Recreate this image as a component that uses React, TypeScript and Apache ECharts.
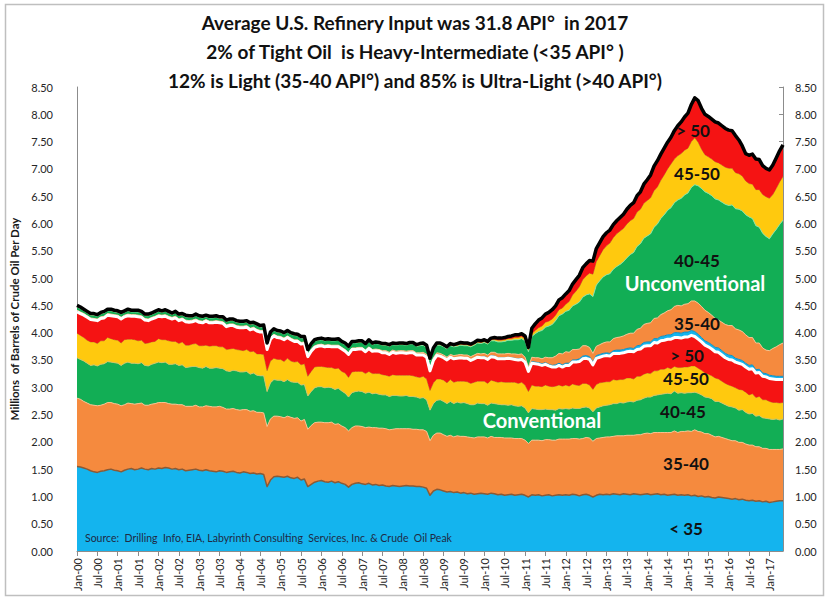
import React, { useEffect, useRef } from "react";
import * as echarts from "echarts";

// ---------- categories (Jan-00 .. May-17, monthly) ----------
const MONTHS = ["Jan", "Feb", "Mar", "Apr", "May", "Jun", "Jul", "Aug", "Sep", "Oct", "Nov", "Dec"];
const YEARS = ["00", "01", "02", "03", "04", "05", "06", "07", "08", "09", "10", "11", "12", "13", "14", "15", "16", "17"];
const N_MONTHS = 209;
const CATEGORIES: string[] = [];
for (const y of YEARS) for (const m of MONTHS) if (CATEGORIES.length < N_MONTHS) CATEGORIES.push(`${m}-${y}`);

const Y_TICKS_MAX = 8.5;
const Y_TICK_STEP = 0.5;

// ---------- Conventional crude, million b/d by API gravity band ----------
const CONV_LT35 = [
  1.55,1.54,1.52,1.50,1.47,1.45,1.44,1.46,1.47,1.49,1.50,1.48,
  1.47,1.45,1.48,1.50,1.51,1.49,1.50,1.52,1.50,1.49,1.51,1.50,
  1.52,1.51,1.53,1.52,1.50,1.51,1.49,1.50,1.47,1.48,1.49,1.50,
  1.48,1.47,1.49,1.47,1.46,1.45,1.47,1.46,1.44,1.45,1.46,1.44,
  1.43,1.45,1.44,1.42,1.43,1.41,1.42,1.40,1.18,1.30,1.36,1.37,
  1.36,1.35,1.37,1.34,1.33,1.35,1.30,1.32,1.18,1.22,1.26,1.28,
  1.29,1.27,1.26,1.28,1.25,1.27,1.24,1.22,1.17,1.22,1.24,1.25,
  1.23,1.22,1.24,1.21,1.22,1.20,1.21,1.19,1.18,1.20,1.19,1.18,
  1.19,1.20,1.19,1.19,1.18,1.18,1.17,1.15,1.02,1.10,1.13,1.12,
  1.10,1.08,1.09,1.07,1.08,1.06,1.07,1.05,1.06,1.04,1.05,1.06,
  1.05,1.04,1.06,1.05,1.03,1.04,1.02,1.03,1.04,1.02,1.03,1.04,
  1.02,0.99,1.03,1.02,1.03,1.01,1.02,1.03,1.01,1.02,1.03,1.02,
  1.03,1.02,1.04,1.03,1.01,1.03,1.04,1.02,0.99,1.02,1.04,1.03,
  1.04,1.03,1.05,1.04,1.03,1.05,1.04,1.03,1.05,1.04,1.03,1.04,
  1.05,1.03,1.04,1.05,1.03,1.04,1.02,1.03,1.04,1.02,1.03,1.02,
  1.03,1.01,1.02,1.00,1.01,0.99,1.00,0.98,0.97,0.99,0.98,0.97,
  0.96,0.95,0.96,0.94,0.95,0.93,0.92,0.93,0.91,0.92,0.90,0.91,
  0.89,0.90,0.91,0.92,0.92,
];
const CONV_35_40 = [
  1.25,1.24,1.22,1.21,1.21,1.22,1.22,1.21,1.22,1.23,1.22,1.22,
  1.22,1.21,1.20,1.21,1.19,1.20,1.20,1.19,1.17,1.18,1.18,1.20,
  1.20,1.21,1.19,1.18,1.19,1.18,1.19,1.18,1.18,1.17,1.16,1.17,
  1.16,1.17,1.17,1.18,1.18,1.19,1.18,1.17,1.16,1.15,1.15,1.15,
  1.15,1.14,1.15,1.14,1.14,1.13,1.12,1.13,1.10,1.12,1.11,1.10,
  1.10,1.09,1.10,1.11,1.10,1.09,1.08,1.09,1.05,1.08,1.09,1.08,
  1.07,1.08,1.09,1.08,1.07,1.06,1.05,1.04,1.03,1.04,1.05,1.04,
  1.05,1.04,1.03,1.05,1.04,1.05,1.04,1.05,1.04,1.03,1.05,1.06,
  1.05,1.04,1.05,1.04,1.05,1.04,1.05,1.04,1.00,1.02,1.03,1.04,
  1.03,1.02,1.03,1.02,1.03,1.04,1.03,1.04,1.02,1.03,1.04,1.03,
  1.04,1.03,1.04,1.03,1.05,1.04,1.05,1.04,1.03,1.04,1.03,1.02,
  1.01,0.98,1.00,1.01,1.00,1.01,1.02,1.01,1.02,1.01,1.02,1.03,
  1.02,1.03,1.02,1.03,1.04,1.03,1.04,1.05,1.02,1.04,1.03,1.05,
  1.05,1.06,1.05,1.07,1.08,1.06,1.08,1.09,1.07,1.09,1.10,1.11,
  1.11,1.12,1.13,1.12,1.14,1.13,1.15,1.14,1.16,1.15,1.16,1.17,
  1.17,1.18,1.20,1.19,1.17,1.16,1.15,1.14,1.12,1.11,1.10,1.09,
  1.08,1.07,1.06,1.05,1.04,1.03,1.02,1.01,1.00,0.99,0.98,0.97,
  0.97,0.96,0.95,0.94,0.95,
];
const CONV_40_45 = [
  0.74,0.73,0.74,0.73,0.72,0.74,0.73,0.75,0.74,0.75,0.74,0.75,
  0.75,0.74,0.76,0.75,0.74,0.75,0.73,0.74,0.73,0.72,0.73,0.74,
  0.74,0.73,0.74,0.72,0.73,0.74,0.72,0.73,0.71,0.72,0.73,0.71,
  0.72,0.71,0.72,0.70,0.71,0.72,0.70,0.71,0.70,0.69,0.70,0.71,
  0.70,0.69,0.70,0.68,0.69,0.68,0.67,0.68,0.64,0.66,0.67,0.66,
  0.67,0.66,0.67,0.65,0.66,0.65,0.66,0.64,0.61,0.62,0.64,0.65,
  0.65,0.64,0.65,0.63,0.64,0.65,0.64,0.63,0.62,0.64,0.63,0.64,
  0.64,0.63,0.64,0.62,0.63,0.62,0.61,0.62,0.61,0.62,0.61,0.60,
  0.60,0.61,0.59,0.60,0.59,0.58,0.59,0.58,0.56,0.58,0.60,0.61,
  0.61,0.60,0.62,0.61,0.62,0.61,0.62,0.61,0.60,0.61,0.62,0.61,
  0.61,0.60,0.61,0.62,0.61,0.60,0.61,0.60,0.61,0.60,0.59,0.60,
  0.59,0.56,0.58,0.57,0.56,0.57,0.56,0.55,0.56,0.55,0.56,0.55,
  0.56,0.55,0.56,0.55,0.56,0.57,0.56,0.55,0.54,0.56,0.57,0.58,
  0.58,0.59,0.60,0.59,0.61,0.60,0.61,0.62,0.61,0.63,0.64,0.65,
  0.66,0.67,0.68,0.69,0.70,0.71,0.72,0.71,0.73,0.72,0.71,0.70,
  0.70,0.71,0.69,0.70,0.68,0.67,0.66,0.67,0.65,0.64,0.63,0.62,
  0.61,0.62,0.60,0.59,0.60,0.58,0.57,0.58,0.56,0.57,0.56,0.55,
  0.56,0.55,0.56,0.54,0.55,
];
const CONV_45_50 = [
  0.45,0.44,0.43,0.42,0.43,0.42,0.41,0.43,0.42,0.44,0.43,0.42,
  0.42,0.41,0.43,0.42,0.44,0.43,0.42,0.41,0.40,0.42,0.41,0.40,
  0.43,0.42,0.41,0.43,0.42,0.41,0.40,0.42,0.41,0.40,0.41,0.42,
  0.40,0.41,0.39,0.40,0.41,0.40,0.39,0.40,0.39,0.41,0.40,0.39,
  0.40,0.39,0.40,0.41,0.40,0.39,0.40,0.39,0.38,0.40,0.39,0.38,
  0.38,0.37,0.39,0.38,0.37,0.38,0.37,0.38,0.36,0.37,0.38,0.37,
  0.37,0.38,0.36,0.37,0.38,0.37,0.36,0.37,0.36,0.38,0.37,0.36,
  0.37,0.36,0.38,0.37,0.36,0.38,0.37,0.36,0.37,0.38,0.37,0.38,
  0.38,0.37,0.39,0.38,0.37,0.38,0.39,0.38,0.36,0.38,0.39,0.38,
  0.39,0.38,0.40,0.39,0.38,0.40,0.39,0.40,0.39,0.41,0.40,0.41,
  0.41,0.40,0.42,0.41,0.40,0.42,0.41,0.42,0.41,0.43,0.42,0.43,
  0.42,0.39,0.43,0.42,0.43,0.42,0.44,0.43,0.42,0.44,0.43,0.42,
  0.43,0.42,0.44,0.43,0.42,0.44,0.43,0.42,0.41,0.43,0.44,0.43,
  0.43,0.42,0.44,0.43,0.42,0.43,0.44,0.43,0.42,0.44,0.43,0.44,
  0.44,0.43,0.45,0.44,0.46,0.45,0.47,0.46,0.45,0.47,0.46,0.48,
  0.47,0.49,0.48,0.46,0.45,0.44,0.43,0.42,0.43,0.41,0.40,0.39,
  0.39,0.38,0.37,0.38,0.36,0.37,0.35,0.36,0.34,0.35,0.33,0.34,
  0.32,0.31,0.30,0.31,0.30,
];
const CONV_GT50 = [
  0.39,0.40,0.41,0.42,0.41,0.40,0.42,0.41,0.42,0.41,0.42,0.43,
  0.43,0.44,0.42,0.43,0.42,0.43,0.44,0.42,0.43,0.41,0.42,0.43,
  0.41,0.42,0.43,0.42,0.41,0.43,0.42,0.41,0.43,0.42,0.41,0.42,
  0.43,0.42,0.44,0.43,0.42,0.43,0.44,0.43,0.42,0.43,0.42,0.41,
  0.41,0.42,0.41,0.40,0.41,0.42,0.40,0.41,0.39,0.40,0.41,0.40,
  0.39,0.40,0.38,0.39,0.38,0.37,0.38,0.37,0.36,0.37,0.36,0.37,
  0.38,0.37,0.39,0.38,0.40,0.39,0.41,0.40,0.42,0.41,0.40,0.41,
  0.41,0.40,0.42,0.41,0.42,0.41,0.40,0.41,0.40,0.41,0.40,0.41,
  0.41,0.40,0.41,0.42,0.40,0.41,0.39,0.40,0.36,0.41,0.43,0.42,
  0.41,0.42,0.41,0.43,0.42,0.43,0.42,0.43,0.42,0.43,0.44,0.43,
  0.43,0.44,0.43,0.44,0.43,0.42,0.43,0.44,0.43,0.42,0.43,0.42,
  0.42,0.37,0.40,0.41,0.40,0.39,0.38,0.37,0.36,0.35,0.36,0.35,
  0.36,0.38,0.40,0.42,0.44,0.45,0.46,0.47,0.45,0.48,0.47,0.48,
  0.48,0.47,0.48,0.49,0.48,0.49,0.48,0.49,0.50,0.49,0.50,0.51,
  0.50,0.51,0.52,0.51,0.52,0.53,0.52,0.54,0.53,0.55,0.54,0.55,
  0.55,0.56,0.54,0.53,0.52,0.51,0.50,0.49,0.48,0.49,0.48,0.47,
  0.47,0.48,0.47,0.48,0.47,0.46,0.47,0.46,0.45,0.44,0.43,0.42,
  0.42,0.43,0.42,0.43,0.42,
];

// ---------- Unconventional (tight oil), million b/d by API gravity band ----------
const UNC_LT35 = [
  0.01,0.01,0.01,0.01,0.01,0.01,0.01,0.01,0.01,0.01,0.01,0.01,
  0.01,0.01,0.01,0.01,0.01,0.01,0.01,0.01,0.01,0.01,0.01,0.01,
  0.01,0.01,0.01,0.01,0.01,0.01,0.01,0.01,0.01,0.01,0.01,0.01,
  0.01,0.01,0.01,0.01,0.01,0.01,0.01,0.01,0.01,0.01,0.01,0.01,
  0.01,0.01,0.01,0.01,0.01,0.01,0.01,0.01,0.01,0.01,0.01,0.01,
  0.01,0.01,0.01,0.01,0.01,0.01,0.01,0.01,0.01,0.01,0.01,0.01,
  0.01,0.01,0.01,0.01,0.01,0.01,0.01,0.01,0.01,0.01,0.01,0.01,
  0.01,0.01,0.01,0.01,0.01,0.01,0.01,0.01,0.01,0.01,0.01,0.01,
  0.01,0.01,0.01,0.01,0.01,0.01,0.01,0.01,0.01,0.01,0.01,0.01,
  0.01,0.01,0.01,0.01,0.01,0.01,0.01,0.01,0.01,0.01,0.01,0.01,
  0.02,0.02,0.02,0.02,0.02,0.02,0.02,0.02,0.02,0.02,0.02,0.02,
  0.02,0.02,0.03,0.03,0.03,0.03,0.03,0.03,0.03,0.04,0.04,0.04,
  0.04,0.04,0.04,0.04,0.05,0.05,0.05,0.05,0.05,0.05,0.05,0.05,
  0.05,0.05,0.05,0.06,0.06,0.06,0.06,0.06,0.06,0.07,0.07,0.07,
  0.07,0.07,0.07,0.08,0.08,0.08,0.08,0.08,0.09,0.09,0.09,0.09,
  0.09,0.09,0.09,0.09,0.08,0.08,0.08,0.08,0.08,0.08,0.08,0.08,
  0.08,0.08,0.07,0.07,0.07,0.07,0.07,0.07,0.06,0.06,0.06,0.06,
  0.06,0.06,0.06,0.06,0.06,
];
const UNC_35_40 = [
  0.02,0.02,0.02,0.02,0.02,0.02,0.02,0.02,0.02,0.02,0.02,0.02,
  0.02,0.02,0.02,0.02,0.02,0.02,0.02,0.02,0.02,0.02,0.02,0.02,
  0.02,0.02,0.02,0.02,0.02,0.02,0.02,0.02,0.02,0.02,0.02,0.02,
  0.02,0.02,0.02,0.02,0.02,0.02,0.02,0.02,0.02,0.02,0.02,0.02,
  0.02,0.02,0.02,0.02,0.02,0.02,0.02,0.02,0.02,0.02,0.02,0.02,
  0.02,0.02,0.02,0.02,0.02,0.02,0.02,0.02,0.02,0.02,0.02,0.02,
  0.02,0.02,0.02,0.02,0.02,0.02,0.02,0.02,0.02,0.02,0.02,0.02,
  0.02,0.02,0.02,0.02,0.02,0.02,0.03,0.03,0.03,0.03,0.03,0.03,
  0.03,0.03,0.03,0.03,0.03,0.03,0.04,0.04,0.04,0.04,0.04,0.04,
  0.04,0.04,0.04,0.05,0.05,0.05,0.05,0.05,0.06,0.06,0.06,0.06,
  0.06,0.06,0.06,0.07,0.07,0.07,0.07,0.07,0.07,0.08,0.08,0.08,
  0.07,0.06,0.08,0.08,0.09,0.09,0.10,0.12,0.14,0.16,0.18,0.20,
  0.21,0.20,0.19,0.19,0.18,0.19,0.18,0.17,0.16,0.17,0.18,0.19,
  0.20,0.21,0.22,0.23,0.24,0.25,0.26,0.27,0.28,0.30,0.31,0.33,
  0.34,0.35,0.37,0.38,0.40,0.42,0.44,0.46,0.48,0.50,0.50,0.51,
  0.52,0.54,0.56,0.57,0.57,0.56,0.55,0.54,0.53,0.51,0.52,0.53,
  0.54,0.55,0.54,0.54,0.53,0.52,0.51,0.50,0.49,0.48,0.46,0.43,
  0.45,0.50,0.54,0.58,0.61,
];
const UNC_40_45 = [
  0.06,0.06,0.05,0.05,0.05,0.06,0.05,0.05,0.06,0.05,0.06,0.05,
  0.05,0.06,0.05,0.06,0.05,0.05,0.06,0.05,0.05,0.06,0.05,0.06,
  0.06,0.05,0.06,0.06,0.05,0.06,0.06,0.05,0.06,0.06,0.05,0.06,
  0.06,0.06,0.05,0.06,0.06,0.06,0.05,0.06,0.06,0.06,0.06,0.06,
  0.06,0.06,0.06,0.07,0.06,0.07,0.06,0.07,0.06,0.07,0.07,0.07,
  0.07,0.07,0.07,0.07,0.08,0.07,0.08,0.07,0.07,0.08,0.08,0.08,
  0.08,0.08,0.08,0.08,0.08,0.09,0.08,0.09,0.09,0.09,0.09,0.09,
  0.09,0.09,0.10,0.09,0.10,0.10,0.10,0.10,0.11,0.10,0.11,0.11,
  0.11,0.11,0.12,0.12,0.12,0.13,0.13,0.13,0.14,0.14,0.14,0.15,
  0.15,0.15,0.16,0.16,0.16,0.17,0.17,0.17,0.18,0.18,0.19,0.19,
  0.20,0.20,0.21,0.21,0.22,0.22,0.23,0.24,0.25,0.26,0.27,0.28,
  0.30,0.28,0.38,0.44,0.48,0.52,0.55,0.58,0.61,0.65,0.69,0.73,
  0.74,0.77,0.80,0.83,0.86,0.89,0.93,0.98,1.04,1.12,1.17,1.21,
  1.23,1.25,1.27,1.30,1.33,1.36,1.40,1.44,1.48,1.52,1.55,1.58,
  1.60,1.63,1.67,1.72,1.76,1.80,1.84,1.87,1.90,1.93,1.97,2.00,
  2.03,2.08,2.13,2.15,2.16,2.17,2.18,2.19,2.19,2.20,2.20,2.20,
  2.20,2.21,2.20,2.21,2.21,2.20,2.21,2.18,2.15,2.12,2.10,2.08,
  2.05,2.10,2.15,2.20,2.25,
];
const UNC_45_50 = [
  0.01,0.01,0.01,0.01,0.01,0.01,0.01,0.01,0.01,0.01,0.01,0.01,
  0.01,0.01,0.01,0.01,0.01,0.01,0.01,0.01,0.01,0.01,0.01,0.01,
  0.01,0.01,0.01,0.01,0.01,0.01,0.01,0.01,0.01,0.01,0.01,0.01,
  0.01,0.01,0.01,0.01,0.01,0.01,0.01,0.01,0.01,0.01,0.01,0.01,
  0.01,0.01,0.01,0.01,0.01,0.01,0.01,0.01,0.01,0.01,0.01,0.01,
  0.01,0.01,0.01,0.01,0.01,0.01,0.01,0.01,0.01,0.01,0.01,0.01,
  0.01,0.01,0.01,0.01,0.01,0.01,0.01,0.01,0.01,0.01,0.01,0.01,
  0.01,0.01,0.01,0.01,0.01,0.01,0.01,0.01,0.01,0.01,0.01,0.01,
  0.01,0.01,0.01,0.01,0.01,0.02,0.02,0.02,0.02,0.02,0.02,0.02,
  0.02,0.02,0.02,0.02,0.02,0.02,0.02,0.02,0.02,0.02,0.02,0.02,
  0.02,0.02,0.02,0.03,0.03,0.03,0.03,0.03,0.03,0.04,0.04,0.04,
  0.04,0.04,0.05,0.06,0.07,0.08,0.09,0.09,0.10,0.10,0.11,0.11,
  0.13,0.16,0.20,0.24,0.28,0.32,0.35,0.38,0.41,0.43,0.46,0.50,
  0.53,0.56,0.58,0.60,0.61,0.61,0.62,0.62,0.62,0.63,0.63,0.64,
  0.65,0.66,0.67,0.68,0.70,0.73,0.76,0.80,0.80,0.81,0.82,0.82,
  0.82,0.84,0.86,0.80,0.72,0.68,0.67,0.67,0.68,0.68,0.68,0.68,
  0.68,0.67,0.66,0.65,0.64,0.62,0.61,0.63,0.66,0.69,0.71,0.73,
  0.74,0.72,0.75,0.78,0.80,
];
const UNC_GT50 = [
  0.02,0.02,0.02,0.02,0.02,0.02,0.02,0.02,0.02,0.02,0.02,0.02,
  0.02,0.02,0.02,0.02,0.02,0.02,0.02,0.02,0.02,0.02,0.02,0.02,
  0.02,0.02,0.02,0.02,0.02,0.02,0.02,0.02,0.02,0.02,0.02,0.02,
  0.02,0.02,0.02,0.02,0.02,0.02,0.02,0.02,0.02,0.02,0.02,0.02,
  0.02,0.02,0.02,0.02,0.02,0.02,0.02,0.02,0.02,0.02,0.02,0.02,
  0.02,0.02,0.02,0.02,0.02,0.02,0.02,0.02,0.02,0.02,0.02,0.02,
  0.02,0.02,0.02,0.02,0.02,0.02,0.02,0.02,0.02,0.02,0.02,0.02,
  0.02,0.02,0.02,0.02,0.02,0.02,0.02,0.02,0.02,0.02,0.02,0.02,
  0.02,0.02,0.02,0.02,0.02,0.02,0.02,0.02,0.02,0.02,0.02,0.02,
  0.02,0.02,0.02,0.02,0.03,0.03,0.03,0.03,0.03,0.03,0.03,0.03,
  0.03,0.03,0.03,0.03,0.04,0.04,0.04,0.04,0.05,0.05,0.05,0.05,
  0.05,0.04,0.10,0.12,0.14,0.15,0.15,0.16,0.17,0.17,0.18,0.19,
  0.19,0.20,0.20,0.21,0.21,0.22,0.22,0.23,0.24,0.24,0.24,0.24,
  0.24,0.24,0.24,0.24,0.25,0.26,0.27,0.28,0.29,0.30,0.32,0.35,
  0.38,0.42,0.45,0.48,0.48,0.49,0.49,0.49,0.52,0.55,0.58,0.61,
  0.64,0.68,0.73,0.76,0.75,0.74,0.74,0.73,0.73,0.73,0.72,0.71,
  0.70,0.69,0.68,0.62,0.55,0.50,0.52,0.55,0.56,0.55,0.53,0.52,
  0.52,0.54,0.56,0.57,0.58,
];

const TITLE_LINES = [
  "Average U.S. Refinery Input was 31.8 API°  in 2017",
  "2% of Tight Oil  is Heavy-Intermediate (<35 API° )",
  "12% is Light (35-40 API°) and 85% is Ultra-Light (>40 API°)",
];
const SOURCE_TEXT = "Source:  Drilling  Info, EIA, Labyrinth Consulting  Services, Inc. & Crude  Oil Peak";
const Y_NAME = "Millions  of Barrels of Crude Oil Per Day";

const FONT = 'Lato, "Noto Sans", "DejaVu Sans", sans-serif';

const COLORS = {
  blue: "#14B4EE",
  orange: "#F58A3E",
  green: "#12AE55",
  yellow: "#FFC90E",
  red: "#F51313",
};

function areaSeries(name: string, data: number[], color: string, edge: string, edgeWidth: number, z = 2) {
  return {
    name,
    type: "line",
    stack: "total",
    data,
    symbol: "none",
    showSymbol: false,
    silent: true,
    z,
    lineStyle: { color: edge, width: edgeWidth, join: "round" },
    areaStyle: { color, opacity: 1 },
    emphasis: { disabled: true },
  };
}

export default function App() {
  const ref = useRef<HTMLDivElement>(null);

  useEffect(() => {
    document.body.style.margin = "0";
    if (!ref.current) return;
    const chart = echarts.init(ref.current, undefined, { renderer: "svg" });

    const labelStyle = { fontFamily: FONT, fontSize: 11, color: "#262626" };
    const axisLineStyle = { color: "#8C8C8C", width: 1 };

    const bandLabel = (text: string, x: number, y: number, fill = "#111", size = 17) => ({
      type: "text",
      x,
      y,
      z: 100,
      silent: true,
      style: {
        text,
        fill,
        font: `bold ${size}px ${FONT}`,
        textAlign: "center",
        textVerticalAlign: "middle",
        verticalAlign: "middle",
      },
    });

    const option: any = {
      animation: false,
      backgroundColor: "#ffffff",
      grid: { left: 76, right: 46, top: 87, bottom: 51, containLabel: false },
      tooltip: { show: false },
      xAxis: {
        type: "category",
        data: CATEGORIES,
        boundaryGap: false,
        axisLine: { show: true, lineStyle: axisLineStyle },
        axisTick: { show: true, interval: 5, length: 5, inside: false, lineStyle: axisLineStyle },
        axisLabel: { ...labelStyle, interval: 5, rotate: 90, margin: 7 },
        splitLine: { show: false },
      },
      yAxis: [
        {
          type: "value",
          position: "left",
          min: 0,
          max: Y_TICKS_MAX,
          interval: Y_TICK_STEP,
          axisLine: { show: true, lineStyle: axisLineStyle },
          axisTick: { show: false },
          splitLine: { show: false },
          axisLabel: { ...labelStyle, margin: 24, formatter: (v: number) => v.toFixed(2) },
          name: Y_NAME,
          nameLocation: "middle",
          nameGap: 57,
          nameRotate: 90,
          nameTextStyle: { fontFamily: FONT, fontSize: 11.5, fontWeight: "bold", color: "#1a1a1a" },
        },
        {
          type: "value",
          position: "right",
          min: 0,
          max: Y_TICKS_MAX,
          interval: Y_TICK_STEP,
          axisLine: { show: true, lineStyle: axisLineStyle },
          axisTick: { show: true, inside: true, length: 4, lineStyle: axisLineStyle },
          splitLine: { show: false },
          axisLabel: { ...labelStyle, margin: 12, formatter: (v: number) => v.toFixed(2) },
        },
      ],
      series: [
        areaSeries("Conventional < 35", CONV_LT35, COLORS.blue, "#8A5A36", 1.5),
        areaSeries("Conventional 35-40", CONV_35_40, COLORS.orange, "#FBC08E", 1),
        areaSeries("Conventional 40-45", CONV_40_45, COLORS.green, "#C9C36A", 1),
        areaSeries("Conventional 45-50", CONV_45_50, COLORS.yellow, "#C4961C", 1),
        areaSeries("Conventional > 50", CONV_GT50, COLORS.red, "#FFFFFF", 3, 4),
        areaSeries("Unconventional < 35", UNC_LT35, COLORS.blue, "#0C8FC6", 1),
        areaSeries("Unconventional 35-40", UNC_35_40, COLORS.orange, "#FBC08E", 1),
        areaSeries("Unconventional 40-45", UNC_40_45, COLORS.green, "#7FE3A6", 1),
        areaSeries("Unconventional 45-50", UNC_45_50, COLORS.yellow, "#C4961C", 1),
        areaSeries("Unconventional > 50", UNC_GT50, COLORS.red, "#000000", 3.5, 5),
      ],
      graphic: [
        {
          type: "rect",
          shape: { x: 5.5, y: 4.5, width: 818, height: 591 },
          style: { fill: "none", stroke: "#BFBFBF", lineWidth: 1.5 },
          silent: true,
          z: 1,
        },
        ...TITLE_LINES.map((t, i) => ({
          type: "text",
          x: 415,
          y: 22 + i * 29,
          silent: true,
          style: {
            text: t,
            fill: "#111111",
            font: `bold 19px ${FONT}`,
            textAlign: "center",
            textVerticalAlign: "middle",
            verticalAlign: "middle",
          },
        })),
        {
          type: "text",
          x: 85,
          y: 538,
          z: 100,
          silent: true,
          style: {
            text: SOURCE_TEXT,
            fill: "#1F2A44",
            font: `10.5px ${FONT}`,
            textAlign: "left",
            textVerticalAlign: "middle",
            verticalAlign: "middle",
          },
        },
        bandLabel("> 50", 693, 130),
        bandLabel("45-50", 697, 173),
        bandLabel("40-45", 697, 260),
        bandLabel("Unconventional", 695, 283, "#FFFFFF", 20),
        bandLabel("35-40", 697, 323),
        bandLabel("> 50", 687, 355),
        bandLabel("45-50", 686, 378),
        bandLabel("40-45", 683, 411),
        bandLabel("Conventional", 542, 420, "#FFFFFF", 20),
        bandLabel("35-40", 686, 463),
        bandLabel("< 35", 686, 528),
      ],
    };

    chart.setOption(option);
    return () => chart.dispose();
  }, []);

  return <div ref={ref} style={{ width: 829, height: 602, background: "#fff" }} />;
}
